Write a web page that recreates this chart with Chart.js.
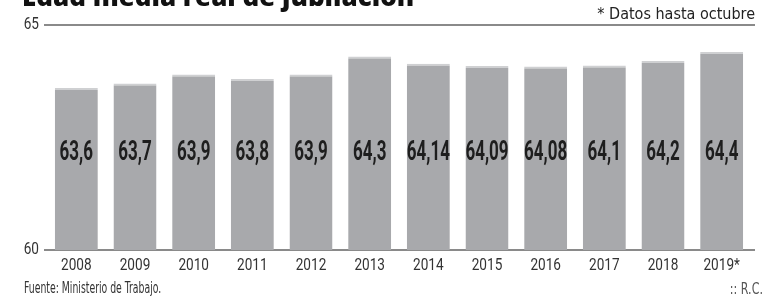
<!DOCTYPE html>
<html>
<head>
<meta charset="utf-8">
<script src="https://cdn.jsdelivr.net/npm/chart.js@4/dist/chart.umd.min.js"></script>
<style>
  html, body { margin: 0; padding: 0; background: #fff; }
  #wrap { position: relative; width: 778px; height: 296px; overflow: hidden; }
  #chart { position: absolute; left: 0; top: 0; }
  .txt { position: absolute; white-space: nowrap; color: #333; font-family: "DejaVu Sans Condensed", sans-serif; }
  #title { left: 22px; top: -22px; font-family: "Open Sans", sans-serif; font-weight: 800; font-size: 26px; color: #111; }
  #note { right: 23px; top: 4px; font-size: 16px; color: #222; }
  #source { left: 24px; top: 279px; font-size: 15px; transform: scaleX(0.69); transform-origin: left top; }
  #credit { right: 15px; top: 279px; font-size: 16px; color: #555; transform: scaleX(0.77); transform-origin: right top; }
</style>
</head>
<body>
<div id="wrap">
  <canvas id="chart" width="778" height="296"></canvas>
  <div id="title" class="txt">Edad media real de jubilación</div>
  <div id="note" class="txt">* Datos hasta octubre</div>
  <div id="source" class="txt">Fuente: Ministerio de Trabajo.</div>
  <div id="credit" class="txt">:: R.C.</div>
</div>
<script>
// data
const years = ['2008', '2009', '2010', '2011', '2012', '2013', '2014', '2015', '2016', '2017', '2018', '2019*'];
const ageValues = [63.6, 63.7, 63.9, 63.8, 63.9, 64.3, 64.14, 64.09, 64.08, 64.1, 64.2, 64.4];
const ageLabels = ['63,6', '63,7', '63,9', '63,8', '63,9', '64,3', '64,14', '64,09', '64,08', '64,1', '64,2', '64,4'];
const yTicks = [60, 65];

// the paper uses a condensed face; squeeze Roboto horizontally to get close
function squeezedText(ctx, text, x, y, sx) {
  ctx.save();
  ctx.translate(x, y);
  ctx.scale(sx, 1);
  ctx.fillText(text, 0, 0);
  ctx.restore();
}

// horizontal rules at 60 and 65, a bit wider than the bars area, plus axis labels
const axesPlugin = {
  id: 'axesDraw',
  beforeDatasetsDraw(chart) {
    const ctx = chart.ctx;
    const x = chart.scales.x;
    const y = chart.scales.y;
    ctx.save();
    ctx.strokeStyle = '#8a8a8a';
    ctx.lineWidth = 2;
    yTicks.forEach(v => {
      const py = Math.round(y.getPixelForValue(v));
      ctx.beginPath();
      ctx.moveTo(44, py);
      ctx.lineTo(755, py);
      ctx.stroke();
    });

    ctx.fillStyle = '#333';
    ctx.font = '16px Roboto, sans-serif';
    ctx.textBaseline = 'middle';
    ctx.textAlign = 'right';
    yTicks.forEach(v => {
      squeezedText(ctx, String(v), 39, y.getPixelForValue(v), 0.85);
    });
    ctx.textAlign = 'center';
    years.forEach((yr, i) => {
      squeezedText(ctx, yr, x.getPixelForValue(i), chart.chartArea.bottom + 16, 0.85);
    });
    ctx.restore();
  }
};

// value labels inside the bars, condensed bold
const valuePlugin = {
  id: 'values',
  afterDatasetsDraw(chart) {
    const ctx = chart.ctx;
    const meta = chart.getDatasetMeta(0);
    ctx.save();
    ctx.fillStyle = '#1e1e1e';
    ctx.font = 'bold 27px Roboto, sans-serif';
    ctx.textAlign = 'center';
    ctx.textBaseline = 'middle';
    meta.data.forEach((bar, i) => {
      squeezedText(ctx, ageLabels[i], bar.x, 153, 0.63);
    });
    ctx.restore();
  }
};

const ctx = document.getElementById('chart').getContext('2d');
const ageChart = new Chart(ctx, {
  type: 'bar',
  data: {
    labels: years,
    datasets: [{
      data: ageValues,
      backgroundColor: '#a8a9ac',
      borderColor: '#cfd0d2',
      borderWidth: { top: 2, left: 0, right: 0, bottom: 0 },
      borderSkipped: 'start',
      barPercentage: 0.733,
      categoryPercentage: 1
    }]
  },
  options: {
    responsive: false,
    animation: false,
    layout: { padding: { top: 25, right: 27, bottom: 0, left: 0 } },
    plugins: { legend: { display: false }, tooltip: { enabled: false } },
    scales: {
      x: {
        grid: { display: false, drawTicks: false },
        border: { display: false },
        ticks: { display: false },
        afterFit: s => { s.height = 46; }
      },
      y: {
        min: 60,
        max: 65,
        grid: { display: false, drawTicks: false },
        border: { display: false },
        ticks: { display: false },
        afterFit: s => { s.width = 47; }
      }
    }
  },
  plugins: [axesPlugin, valuePlugin]
});
</script>
</body>
</html>
